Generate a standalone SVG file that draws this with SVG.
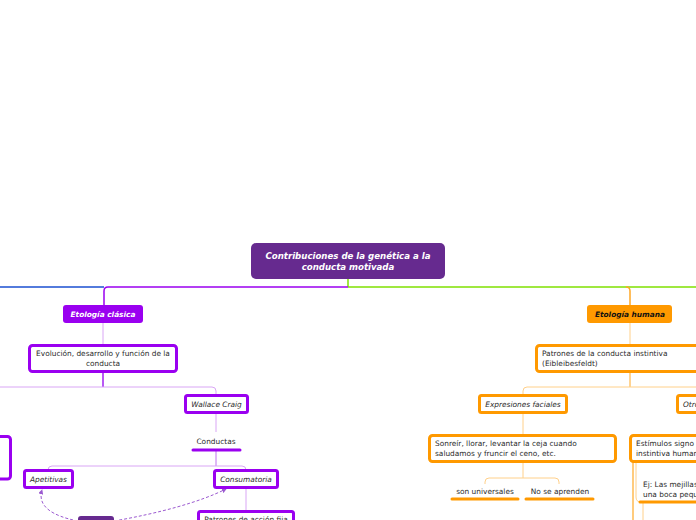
<svg xmlns="http://www.w3.org/2000/svg" width="696" height="520" viewBox="0 0 696 520">
<style>
text{font-family:"DejaVu Sans","Liberation Sans",sans-serif;font-size:7.4px;fill:#2a2a2a}
.c{text-anchor:middle}
.it{font-style:italic}
.w{fill:#fff;font-weight:bold;font-style:italic}
.pb{fill:#fff;stroke:#9a00f0;stroke-width:3}
.ob{fill:#fff;stroke:#ff9900;stroke-width:3}
.lp{fill:none;stroke:#d9a6f5;stroke-width:1}
.dp{fill:none;stroke:#a020f0;stroke-width:1.5}
.lo{fill:none;stroke:#ffd08a;stroke-width:1}
.do{fill:none;stroke:#ffa826;stroke-width:1.5}
.ul{stroke-width:3;stroke-linecap:round}
</style>
<defs>
<marker id="ah" viewBox="0 0 6 6" refX="5" refY="3" markerWidth="5" markerHeight="5" orient="auto">
<path d="M0,0 L6,3 L0,6 Z" fill="#9b59d0"/>
</marker>
</defs>
<g id="connectors">
<path d="M348,279 V287" fill="none" stroke="#7fe000" stroke-width="1.5"/>
<path d="M348,287 H696" fill="none" stroke="#7fe000" stroke-width="1.5"/>
<path d="M348,287 H108 Q104,287 104,291 V305" fill="none" stroke="#9a00f0" stroke-width="1.5"/>
<path d="M104,287 H0" fill="none" stroke="#1a4fd0" stroke-width="1.5"/>
<path d="M626,287 Q630,287 630,291 V305" class="do"/>
<path d="M103,323 V345" class="lp"/>
<path d="M103,371 V387" class="dp"/>
<path d="M0,387 H212 Q216,387 216,391 V395" class="lp"/>
<path d="M216,412 V432" class="lp"/>
<path d="M216,450 V466" class="dp" style="stroke:#c070f0;stroke-width:1"/>
<path d="M48,470 Q48,466 52,466 H242 Q246,466 246,470" class="lp"/>
<path d="M246,487 V511" class="lp"/>
<path d="M78,521 C52,516 37,506 42,490" fill="none" stroke="#9b59d0" stroke-width="1" stroke-dasharray="3,2" marker-end="url(#ah)"/>
<path d="M114,521 C160,513 200,502 226,489" fill="none" stroke="#9b59d0" stroke-width="1" stroke-dasharray="3,2" marker-end="url(#ah)"/>
<path d="M630,323 V345" class="lo"/>
<path d="M630,372 V387" class="do" style="stroke-width:1"/>
<path d="M523,395 V391 Q523,387 527,387 H696" class="lo"/>
<path d="M523,412 V435" class="lo"/>
<path d="M523,462 V478" class="lo"/>
<path d="M485,484 V482 Q485,478 489,478 H555 Q559,478 559,482 V484" class="lo"/>
<path d="M633,462 V520" class="do" style="stroke-width:1.2"/>
<path d="M636,463 V497 Q636,502 641,502" class="lo"/>
<path d="M643,502 V520" class="lo"/>
</g>
<g id="central">
<rect x="251" y="243" width="194" height="36" rx="5" fill="#662a8f"/>
<text class="c w" x="348" y="259" style="font-size:8.6px">Contribuciones de la genética a la</text>
<text class="c w" x="348" y="270" style="font-size:8.6px">conducta motivada</text>
</g>
<g id="etologia-clasica">
<rect x="63" y="305" width="80" height="18" rx="3" fill="#9a00f0"/>
<text class="c w" x="103" y="317">Etología clásica</text>
</g>
<g id="evolucion">
<rect x="29.5" y="345.5" width="147" height="26" rx="3" class="pb"/>
<text class="c" x="103" y="356">Evolución, desarrollo y función de la</text>
<text class="c" x="103" y="366">conducta</text>
</g>
<g id="left-node">
<rect x="-20" y="436.5" width="30.5" height="42.5" rx="3" class="pb"/>
</g>
<g id="wallace">
<rect x="185.5" y="395.5" width="62" height="17" rx="2" class="pb"/>
<text class="c it" x="216.5" y="407">Wallace Craig</text>
</g>
<g id="conductas">
<text class="c" x="216" y="444">Conductas</text>
<path d="M193,450 H240" class="ul" stroke="#9a00f0"/>
</g>
<g id="apetitivas">
<rect x="24.5" y="470.5" width="48" height="17" rx="2" class="pb"/>
<text class="c it" x="48.5" y="482">Apetitivas</text>
</g>
<g id="consumatoria">
<rect x="214.5" y="470.5" width="63" height="17" rx="2" class="pb"/>
<text class="c it" x="246" y="482">Consumatoria</text>
</g>
<g id="patrones-accion">
<rect x="198.5" y="511.5" width="95" height="20" rx="2" class="pb"/>
<text class="c" x="246" y="522">Patrones de acción fija</text>
</g>
<g id="dark-node">
<rect x="78" y="516" width="36" height="14" rx="3" fill="#662a8f"/>
</g>
<g id="etologia-humana">
<rect x="587" y="305" width="85" height="18" rx="3" fill="#ff9900"/>
<text class="c w" x="630" y="317" style="fill:#111">Etología humana</text>
</g>
<g id="patrones-instintiva">
<rect x="536.5" y="345.5" width="170" height="26" rx="3" class="ob"/>
<text x="542" y="356">Patrones de la conducta instintiva</text>
<text x="542" y="366">(Eibleibesfeldt)</text>
</g>
<g id="expresiones">
<rect x="479.5" y="395.5" width="87" height="17" rx="2" class="ob"/>
<text class="c it" x="523" y="407">Expresiones faciales</text>
</g>
<g id="sonreir">
<rect x="429.5" y="435.5" width="186" height="26" rx="3" class="ob"/>
<text x="435" y="446">Sonreír, llorar, levantar la ceja cuando</text>
<text x="435" y="456">saludamos y fruncir el ceno, etc.</text>
</g>
<g id="universales">
<text class="c" x="485" y="494">son universales</text>
<path d="M452,499 H518" class="ul" stroke="#ff9900"/>
</g>
<g id="no-aprenden">
<text class="c" x="560" y="494">No se aprenden</text>
<path d="M526,499 H593" class="ul" stroke="#ff9900"/>
</g>
<g id="otros">
<rect x="677.5" y="395.5" width="40" height="17" rx="2" class="ob"/>
<text class="it" x="683" y="407">Otros</text>
</g>
<g id="estimulos">
<rect x="630.5" y="435.5" width="90" height="26" rx="3" class="ob"/>
<text x="636" y="446">Estímulos signo de la conducta</text>
<text x="636" y="456">instintiva humana</text>
</g>
<g id="ej">
<text x="643" y="487">Ej: Las mejillas redondas y</text>
<text x="643" y="497">una boca pequeña</text>
<path d="M640,502 H700" class="ul" stroke="#ff9900"/>
</g>
</svg>
